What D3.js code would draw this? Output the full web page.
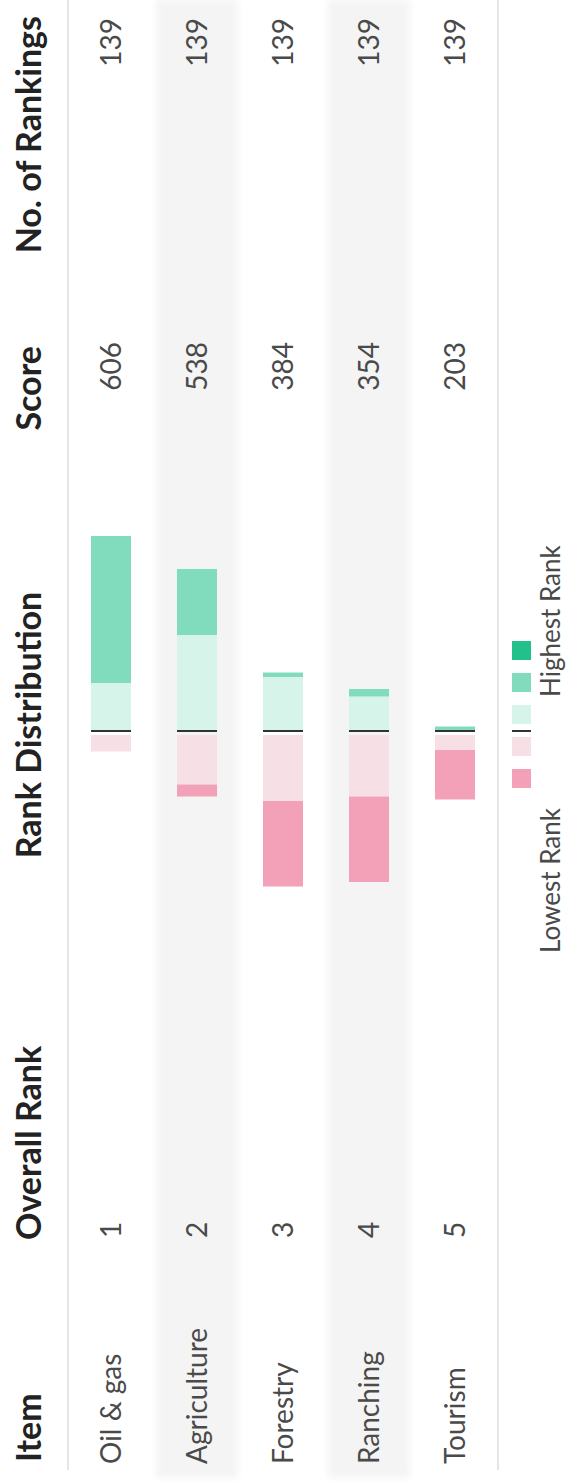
<!DOCTYPE html>
<html>
<head>
<meta charset="utf-8">
<script src="https://cdn.jsdelivr.net/npm/d3@7"></script>
<style>
  html, body { margin: 0; padding: 0; background: #fff; }
  svg { display: block; }
</style>
</head>
<body>
<div id="chart"></div>
<script>
// ---- data ----
const items = ["Oil & gas", "Agriculture", "Forestry", "Ranching", "Tourism"];
const overallRank = [1, 2, 3, 4, 5];
const scores = [606, 538, 384, 354, 203];
const rankingCounts = [139, 139, 139, 139, 139];
const columnHeaders = ["Item", "Overall Rank", "Rank Distribution", "Score", "No. of Rankings"];

// rank distribution segments, from the highest rank to the lowest
const rankLevels = ["highest", "high", "midHigh", "midLow", "lowest"];
const highest = [0, 0, 0, 0, 0];
const high    = [98, 44, 3, 5, 3];
const midHigh = [32, 64, 36, 23, 0];
const midLow  = [11, 33, 44, 41, 10];
const lowest  = [0, 8, 57, 57, 33];
const legendLabels = ["Lowest Rank", "Highest Rank"];

const levelColors = {
  highest: "#22c18c",
  high:    "#80dcbd",
  midHigh: "#d6f4e9",
  midLow:  "#f6dfe5",
  lowest:  "#f2a1b9"
};

// ---- layout (drawn in a landscape frame, then turned a quarter turn) ----
const W = 1484, H = 567;
const svg = d3.select("#chart").append("svg")
  .attr("width", H).attr("height", W);

const defs = svg.append("defs");
defs.append("filter").attr("id", "soft")
  .attr("x", "-5%").attr("y", "-20%").attr("width", "110%").attr("height", "140%")
  .append("feGaussianBlur").attr("stdDeviation", 3);

const g = svg.append("g")
  .attr("transform", `translate(0,${W}) rotate(-90)`)
  .style("font-family", "Lato, 'Open Sans', sans-serif");

const y = d3.scaleBand().domain(items).range([68, 498]);
const x = d3.scaleLinear().domain([-100, 100]).range([603, 903]);
const zeroX = x(0);
const gap = 4;
const barH = 40;

// alternating row shading
g.append("g").selectAll("rect")
  .data(items.filter((d, i) => i % 2 === 1))
  .join("rect")
  .attr("x", 6).attr("width", W - 6)
  .attr("y", d => y(d) + 2).attr("height", y.bandwidth() - 4)
  .attr("fill", "#f4f4f4")
  .attr("filter", "url(#soft)");

// rule lines under the header and after the last row
g.append("g").selectAll("line")
  .data([y.range()[0], y.range()[1]])
  .join("line")
  .attr("x1", 14).attr("x2", W)
  .attr("y1", d => d).attr("y2", d => d)
  .attr("stroke", "#dcdcdc").attr("stroke-width", 1.5);

// headers
const headerX = [22, 244, 759, 1138, 1468];
const headerAnchor = ["start", "start", "middle", "end", "end"];
g.append("g").selectAll("text")
  .data(columnHeaders)
  .join("text")
  .attr("x", (d, i) => headerX[i])
  .attr("y", 41)
  .attr("text-anchor", (d, i) => headerAnchor[i])
  .attr("font-size", 34).attr("font-weight", 700)
  .attr("fill", "#222")
  .text(d => d);

// row cells
const rowText = (values, xPos, anchor) =>
  g.append("g").selectAll("text")
    .data(values)
    .join("text")
    .attr("x", xPos)
    .attr("y", (d, i) => y(items[i]) + y.bandwidth() / 2)
    .attr("dy", "0.36em")
    .attr("text-anchor", anchor)
    .attr("font-size", 28)
    .attr("fill", "#4a4a4a")
    .text(d => d);

rowText(items, 20, "start");
rowText(overallRank, 246, "start");
rowText(scores, 1142, "end");
rowText(rankingCounts, 1466, "end");

// diverging stacked bars
const series = { highest, high, midHigh, midLow, lowest };
const segments = [];
items.forEach((item, i) => {
  // positive side: nearest the centre first
  let pos = 0;
  ["midHigh", "high", "highest"].forEach(k => {
    const v = series[k][i];
    if (v > 0) segments.push({ item, level: k, x0: x(pos), x1: x(pos + v) });
    pos += v;
  });
  let neg = 0;
  ["midLow", "lowest"].forEach(k => {
    const v = series[k][i];
    if (v > 0) segments.push({ item, level: k, x0: x(-(neg + v)) - gap, x1: x(-neg) - gap });
    neg += v;
  });
});

g.append("g").selectAll("rect")
  .data(segments)
  .join("rect")
  .attr("x", d => d.x0)
  .attr("width", d => d.x1 - d.x0)
  .attr("y", d => y(d.item) + (y.bandwidth() - barH) / 2)
  .attr("height", barH)
  .attr("fill", d => levelColors[d.level]);

// centre marks
g.append("g").selectAll("rect")
  .data(items)
  .join("rect")
  .attr("x", zeroX - 1).attr("width", 2)
  .attr("y", d => y(d) + (y.bandwidth() - barH) / 2)
  .attr("height", barH)
  .attr("fill", "#333");

// legend
const legendOrder = ["lowest", "midLow", "midHigh", "high", "highest"];
const legendXs = [696, 728, 760, 792, 824];
const legendY = 512, sw = 19;
const lg = g.append("g");
lg.selectAll("rect")
  .data(legendOrder)
  .join("rect")
  .attr("x", (d, i) => legendXs[i])
  .attr("y", legendY)
  .attr("width", sw).attr("height", sw)
  .attr("fill", d => levelColors[d]);
lg.append("rect")
  .attr("x", zeroX - 1).attr("width", 2)
  .attr("y", legendY).attr("height", sw)
  .attr("fill", "#333");
lg.selectAll("text")
  .data(legendLabels)
  .join("text")
  .attr("x", (d, i) => i === 0 ? 676 : 787)
  .attr("y", 560)
  .attr("text-anchor", (d, i) => i === 0 ? "end" : "start")
  .attr("font-size", 26)
  .attr("fill", "#4a4a4a")
  .text(d => d);
</script>
</body>
</html>
